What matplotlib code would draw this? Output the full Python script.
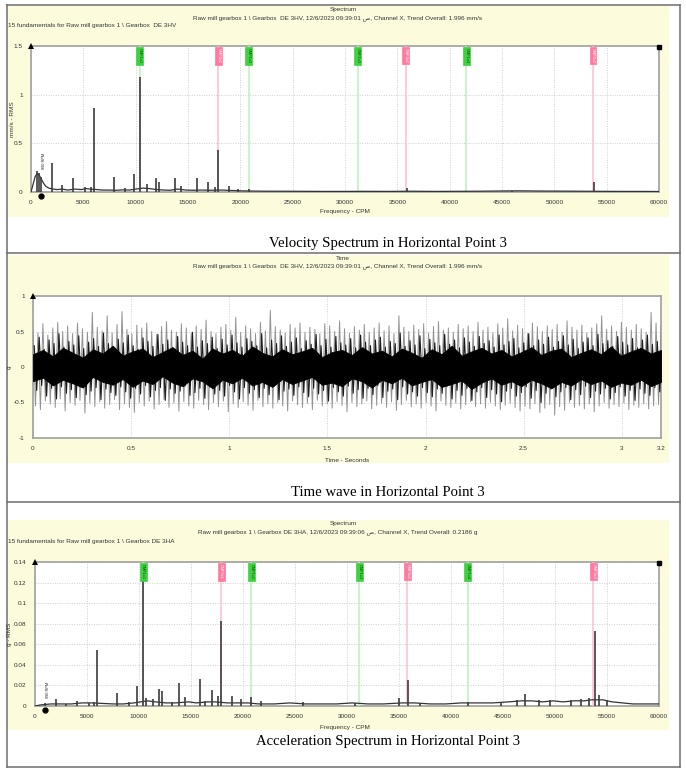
import numpy as np
import matplotlib
matplotlib.use("Agg")
import matplotlib.pyplot as plt
from matplotlib.patches import Rectangle
from matplotlib.transforms import blended_transform_factory as btf

plt.rcParams['font.family'] = ['Liberation Sans', 'DejaVu Sans']

# ---------------- data ----------------
freq_ticks = [0, 5000, 10000, 15000, 20000, 25000, 30000, 35000, 40000, 45000, 50000, 55000, 60000]
vel_yticks = [0, 0.5, 1, 1.5]
acc_yticks = [0, 0.02, 0.04, 0.06, 0.08, 0.1, 0.12, 0.14]
time_xticks = [0, 0.5, 1, 1.5, 2, 2.5, 3, 3.2]
time_yticks = [-1, -0.5, 0, 0.5, 1]

marker_freqs = [10400, 17900, 20800, 31200, 35800, 41600, 53700]
marker_labels = ["GMF1x1", "GMF2x1", "GMF1x2", "GMF1x3", "GMF2x2", "GMF1x4", "GMF2x3"]
marker_kinds = ["g", "p", "g", "g", "p", "g", "p"]
rpm_freq = 990
rpm_label = "990 RPM"

vel_peak_f = [600, 800, 1000, 2000, 3000, 4000, 5200, 5700, 6000, 7900, 9000, 9800, 10400, 11100,
              11900, 12200, 13800, 14300, 15900, 16900, 17600, 17900, 18900, 19800, 20800, 25200,
              35000, 35900, 41600, 46000, 53800]
vel_peak_v = [0.22, 0.20, 0.15, 0.30, 0.07, 0.14, 0.05, 0.05, 0.86, 0.15, 0.04, 0.18, 1.18, 0.08,
              0.14, 0.10, 0.14, 0.06, 0.14, 0.10, 0.05, 0.43, 0.06, 0.03, 0.03, 0.012,
              0.01, 0.04, 0.01, 0.012, 0.10]
vel_floor_f = [0, 200, 400, 600, 800, 1000, 1200, 1400, 1700, 2100, 2500, 3000, 3500, 4200, 4800, 5300,
               5600, 6300, 6800, 7400, 8200, 8800, 9400, 10000, 10700, 11300, 12000, 12700, 13300, 14000,
               14800, 15500, 16300, 17200, 18300, 19200, 20000, 21000, 22500, 24000, 26000, 28000, 30000,
               32000, 34000, 36500, 38500, 40500, 42500, 44500, 46500, 48500, 50500, 52500, 54500, 56500,
               58500, 60000]
vel_floor_v = [0.0, 0.08, 0.16, 0.19, 0.17, 0.13, 0.09, 0.06, 0.04, 0.03, 0.025, 0.03, 0.02, 0.03, 0.025,
               0.035, 0.03, 0.025, 0.02, 0.02, 0.018, 0.022, 0.02, 0.03, 0.04, 0.035, 0.025, 0.02, 0.018,
               0.03, 0.02, 0.018, 0.02, 0.018, 0.02, 0.015, 0.012, 0.01, 0.008, 0.008, 0.007, 0.006, 0.006,
               0.007, 0.006, 0.008, 0.006, 0.007, 0.008, 0.01, 0.012, 0.01, 0.009, 0.008, 0.007, 0.006,
               0.006, 0.005]

acc_peak_f = [1000, 2000, 3000, 4000, 5200, 5700, 6000, 7900, 9000, 9800, 10400, 10700, 11300, 11900,
              12200, 13200, 13800, 14400, 15900, 16300, 17000, 17600, 17900, 18900, 19800, 20800, 21700,
              25800, 30800, 35000, 35900, 37000, 41600, 44800, 46300, 47100, 48500, 49500, 51500, 52500,
              53300, 53800, 54200, 55000]
acc_peak_v = [0.003, 0.007, 0.002, 0.005, 0.003, 0.004, 0.054, 0.013, 0.004, 0.019, 0.123, 0.008, 0.007,
              0.017, 0.015, 0.004, 0.022, 0.009, 0.026, 0.005, 0.016, 0.01, 0.083, 0.01, 0.007, 0.009,
              0.005, 0.004, 0.003, 0.008, 0.025, 0.003, 0.004, 0.004, 0.006, 0.012, 0.006, 0.006, 0.006,
              0.007, 0.008, 0.073, 0.011, 0.006]
acc_floor_f = [0, 500, 1000, 1500, 2500, 3500, 4500, 5500, 6500, 7500, 8500, 9500, 10800, 11600, 12600,
               13500, 14800, 15500, 16600, 17300, 18500, 19500, 20500, 21500, 23000, 24500, 26000, 27500,
               29000, 30500, 32000, 33500, 35300, 36500, 38000, 39500, 41000, 42500, 44000, 45500, 46800,
               47800, 48800, 49800, 50800, 51800, 52800, 53500, 54600, 55500, 56500, 57500, 58500, 60000]
acc_floor_v = [0.0, 0.001, 0.0015, 0.002, 0.002, 0.002, 0.003, 0.003, 0.0025, 0.002, 0.002, 0.003, 0.005,
               0.004, 0.003, 0.003, 0.004, 0.003, 0.004, 0.004, 0.003, 0.003, 0.003, 0.002, 0.002, 0.003,
               0.002, 0.002, 0.002, 0.003, 0.002, 0.002, 0.003, 0.003, 0.002, 0.002, 0.003, 0.003, 0.003,
               0.004, 0.005, 0.005, 0.004, 0.005, 0.004, 0.005, 0.005, 0.006, 0.006, 0.004, 0.003, 0.002,
               0.002, 0.002]

wave_hi = [0.52, 0.48, 0.61, 0.45, 0.55, 0.63, 0.50, 0.58, 0.47, 0.62, 0.54, 0.49, 0.77, 0.56, 0.51, 0.72,
           0.48, 0.60, 0.78, 0.53, 0.47, 0.59, 0.55, 0.62, 0.50, 0.46, 0.57, 0.64, 0.52, 0.49, 0.61, 0.55,
           0.48, 0.58, 0.53, 0.66, 0.50, 0.47, 0.56, 0.60, 0.52, 0.70, 0.49, 0.58, 0.54, 0.47, 0.63, 0.51,
           0.80, 0.57, 0.52, 0.48, 0.60, 0.55, 0.62, 0.49, 0.56, 0.53, 0.47, 0.61, 0.58, 0.50, 0.65, 0.54,
           0.48, 0.57, 0.52, 0.60, 0.49, 0.55, 0.62, 0.51, 0.58, 0.47, 0.72, 0.56, 0.50, 0.59, 0.53, 0.61,
           0.48, 0.57, 0.64, 0.52, 0.55, 0.49, 0.60, 0.54, 0.58, 0.50, 0.63, 0.52, 0.56, 0.48, 0.61, 0.55,
           0.68, 0.51, 0.59, 0.54, 0.47, 0.62, 0.57, 0.50, 0.58, 0.53, 0.60, 0.49, 0.65, 0.56, 0.52, 0.59,
           0.48, 0.55, 0.61, 0.72, 0.53, 0.58, 0.50, 0.63, 0.56, 0.52, 0.60, 0.54, 0.49, 0.77, 0.62, 0.58]
wave_lo = [-0.55, -0.60, -0.48, -0.52, -0.57, -0.45, -0.62, -0.50, -0.54, -0.47, -0.65, -0.51, -0.56,
           -0.49, -0.58, -0.53, -0.46, -0.60, -0.52, -0.57, -0.64, -0.50, -0.55, -0.48, -0.59, -0.53,
           -0.46, -0.57, -0.51, -0.62, -0.49, -0.55, -0.58, -0.47, -0.53, -0.60, -0.50, -0.56, -0.48,
           -0.63, -0.52, -0.57, -0.49, -0.54, -0.61, -0.47, -0.56, -0.52, -0.58, -0.50, -0.55, -0.62,
           -0.48, -0.53, -0.57, -0.51, -0.60, -0.47, -0.55, -0.52, -0.58, -0.49, -0.54, -0.63, -0.50,
           -0.56, -0.52, -0.48, -0.59, -0.54, -0.51, -0.57, -0.49, -0.61, -0.53, -0.47, -0.56, -0.52,
           -0.58, -0.50, -0.55, -0.62, -0.48, -0.54, -0.57, -0.51, -0.59, -0.53, -0.49, -0.56, -0.52,
           -0.58, -0.50, -0.55, -0.60, -0.54, -0.51, -0.57, -0.62, -0.55, -0.59, -0.52, -0.64, -0.58,
           -0.53, -0.68, -0.56, -0.61, -0.50, -0.57, -0.54, -0.59, -0.52, -0.63, -0.55, -0.50, -0.58,
           -0.53, -0.56, -0.51, -0.60, -0.54, -0.57, -0.52, -0.59, -0.55, -0.53, -0.58]
core_hi = [0.30, 0.42, 0.25, 0.38, 0.33, 0.47, 0.28, 0.36, 0.31, 0.44, 0.26, 0.35, 0.40, 0.29, 0.48, 0.33,
           0.27, 0.39, 0.34, 0.45, 0.30, 0.25, 0.41, 0.36, 0.29, 0.46, 0.32, 0.38, 0.27, 0.43, 0.35, 0.30,
           0.49, 0.28, 0.37, 0.33, 0.42, 0.26, 0.39, 0.31, 0.45, 0.34, 0.28, 0.40, 0.36, 0.30, 0.47, 0.27,
           0.38, 0.33, 0.44, 0.29, 0.35, 0.41, 0.26, 0.37, 0.32, 0.46, 0.30, 0.39, 0.28, 0.43, 0.34, 0.31,
           0.40, 0.27, 0.45, 0.35, 0.30, 0.38, 0.42, 0.28, 0.36, 0.33, 0.48, 0.29, 0.37, 0.31, 0.44, 0.26,
           0.39, 0.34, 0.30, 0.46, 0.32, 0.38, 0.27, 0.41, 0.35, 0.29, 0.43, 0.33, 0.37, 0.28, 0.45, 0.31,
           0.36, 0.40, 0.27, 0.34, 0.47, 0.30, 0.38, 0.32, 0.42, 0.28, 0.36, 0.44, 0.31, 0.39, 0.26, 0.35,
           0.41, 0.30, 0.46, 0.33, 0.37, 0.29, 0.43, 0.35, 0.31, 0.40, 0.27, 0.38, 0.45, 0.32, 0.36, 0.42]
core_lo = [-0.33, -0.26, -0.41, -0.30, -0.45, -0.28, -0.37, -0.32, -0.43, -0.27, -0.39, -0.34, -0.29,
           -0.46, -0.31, -0.36, -0.40, -0.28, -0.35, -0.44, -0.30, -0.38, -0.26, -0.42, -0.33, -0.29,
           -0.47, -0.31, -0.37, -0.34, -0.27, -0.40, -0.36, -0.30, -0.44, -0.28, -0.38, -0.33, -0.41,
           -0.26, -0.35, -0.45, -0.29, -0.37, -0.32, -0.43, -0.30, -0.39, -0.27, -0.46, -0.34, -0.31,
           -0.40, -0.28, -0.36, -0.42, -0.30, -0.38, -0.33, -0.48, -0.29, -0.35, -0.41, -0.27, -0.37,
           -0.32, -0.44, -0.30, -0.39, -0.26, -0.43, -0.34, -0.31, -0.46, -0.28, -0.38, -0.35, -0.41,
           -0.29, -0.36, -0.42, -0.31, -0.37, -0.27, -0.45, -0.33, -0.40, -0.30, -0.47, -0.35, -0.29,
           -0.43, -0.32, -0.38, -0.49, -0.34, -0.30, -0.41, -0.36, -0.28, -0.44, -0.33, -0.50, -0.37,
           -0.31, -0.42, -0.35, -0.29, -0.46, -0.32, -0.39, -0.27, -0.43, -0.34, -0.38, -0.30, -0.45,
           -0.36, -0.28, -0.41, -0.33, -0.47, -0.31, -0.37, -0.40, -0.29, -0.35, -0.44]
# dense black band of the waveform (upper / lower edges)
band_hi = [0.18, 0.24, 0.15, 0.27, 0.20, 0.13, 0.25, 0.19, 0.30, 0.16, 0.22, 0.26, 0.14, 0.21, 0.28, 0.17,
           0.23, 0.12, 0.26, 0.19, 0.24, 0.16, 0.29, 0.20, 0.15, 0.25, 0.18, 0.22, 0.27, 0.14, 0.21, 0.24,
           0.17, 0.28, 0.19, 0.23, 0.15, 0.26, 0.20, 0.13, 0.25, 0.18, 0.30, 0.16, 0.22, 0.27, 0.19, 0.24,
           0.15, 0.21, 0.28, 0.17, 0.23, 0.26, 0.14, 0.20, 0.25, 0.18, 0.29, 0.16, 0.22, 0.27, 0.19, 0.24]
band_lo = [-0.20, -0.15, -0.26, -0.18, -0.23, -0.29, -0.14, -0.21, -0.25, -0.17, -0.28, -0.19, -0.24,
           -0.13, -0.22, -0.27, -0.16, -0.20, -0.30, -0.18, -0.23, -0.15, -0.26, -0.21, -0.28, -0.17,
           -0.24, -0.19, -0.14, -0.25, -0.22, -0.27, -0.16, -0.20, -0.29, -0.18, -0.23, -0.15, -0.26,
           -0.21, -0.17, -0.28, -0.24, -0.19, -0.31, -0.22, -0.16, -0.25, -0.20, -0.27, -0.18, -0.23,
           -0.30, -0.21, -0.26, -0.17, -0.24, -0.19, -0.28, -0.22, -0.25, -0.18, -0.27, -0.21]

# ---------------- layout ----------------
W, H = 686, 777
fig = plt.figure(figsize=(W / 100, H / 100), dpi=100)
fig.patch.set_facecolor('white')

bg = fig.add_axes([0, 0, 1, 1])
bg.set_xlim(0, W)
bg.set_ylim(H, 0)
bg.axis('off')
bg.set_zorder(0)

YEL = '#fcfcdc'
BORDER = '#6e6e6e'
SMALL = 4.6
TXT = '#333333'


def rect(x0, y0, x1, y1):
    return [x0 / W, 1 - y1 / H, (x1 - x0) / W, (y1 - y0) / H]


# yellow panels
for (x0, y0, x1, y1) in [(8, 6, 669, 217), (8, 255, 669, 463), (8, 520, 669, 730)]:
    bg.add_patch(Rectangle((x0, y0), x1 - x0, y1 - y0, fc=YEL, ec='none'))

# table borders
for y in [5, 253, 502, 767]:
    bg.plot([7, 680], [y, y], color=BORDER, lw=1.1)
for x in [7, 680]:
    bg.plot([x, x], [5, 767], color=BORDER, lw=1.1)

# captions
cap_kw = dict(ha='center', va='center', fontsize=10.6, family=['Liberation Serif'], color='black')
bg.text(388, 244, "Velocity Spectrum in Horizontal Point 3", **cap_kw)
bg.text(388, 492, "Time wave in Horizontal Point 3", **cap_kw)
bg.text(388, 742, "Acceleration Spectrum in Horizontal Point 3", **cap_kw)

hv_line = "Raw mill gearbox 1 \\ Gearbox  DE 3HV, 12/6/2023 09:39:01 ص, Channel X, Trend Overall: 1.996 mm/s"
ha_line = "Raw mill gearbox 1 \\ Gearbox DE 3HA, 12/6/2023 09:39:06 ص, Channel X, Trend Overall: 0.2186 g"
tk = dict(fontsize=SMALL, color=TXT, va='center')
bg.text(343, 9, "Spectrum", ha='center', **tk)
bg.text(338, 18, hv_line, ha='center', **tk)
bg.text(8, 26, "15 fundamentals for Raw mill gearbox 1 \\ Gearbox  DE 3HV", ha='left', **tk)
bg.text(343, 258, "Time", ha='center', **tk)
bg.text(338, 266, hv_line, ha='center', **tk)
bg.text(343, 523, "Spectrum", ha='center', **tk)
bg.text(338, 532, ha_line, ha='center', **tk)
bg.text(8, 541, "15 fundamentals for Raw mill gearbox 1 \\ Gearbox DE 3HA", ha='left', **tk)

bg.text(345, 212, "Frequency - CPM", ha='center', **tk)
bg.text(347, 460, "Time - Seconds", ha='center', **tk)
bg.text(345, 727, "Frequency - CPM", ha='center', **tk)
bg.text(12, 119, "mm/s - RMS", ha='center', rotation=90, **tk)
bg.text(9, 367, "g", ha='center', rotation=90, **tk)
bg.text(9, 634, "g - RMS", ha='center', rotation=90, **tk)


def style(ax, xt, xl, yt, yl):
    ax.set_facecolor('white')
    ax.set_zorder(2)
    for s in ax.spines.values():
        s.set_color('#a0a0a0')
        s.set_linewidth(1.2)
    ax.set_xticks(xt)
    ax.set_xticklabels(xl)
    ax.set_yticks(yt)
    ax.set_yticklabels(yl)
    ax.tick_params(length=0, labelsize=SMALL, labelcolor=TXT, pad=6)
    ax.grid(True, color='#cfcfcf', ls=(0, (1, 1.5)), lw=0.7)
    ax.set_axisbelow(True)


def fmt(v):
    return '%g' % v


def spectrum(ax, pf, pv, ff, fv, ymax, rpm_frac):
    n = min(len(ff), len(fv))
    ax.plot(ff[:n], fv[:n], color='#333333', lw=0.9, zorder=4)
    m = min(len(pf), len(pv))
    ax.vlines(pf[:m], 0, pv[:m], color='#3c3c3c', lw=1.2, zorder=4)
    tr = btf(ax.transData, ax.transAxes)
    for f, lab, kind in zip(marker_freqs, marker_labels, marker_kinds):
        lc = '#b9f3b9' if kind == 'g' else '#ffbfd0'
        bc = '#3fd13f' if kind == 'g' else '#ff7aa0'
        tc = '#0a4a0a' if kind == 'g' else '#ffffff'
        ax.axvline(f, color=lc, lw=1.1, zorder=3)
        ax.text(f, 0.985, lab, rotation=-90, transform=tr, ha='center', va='top', fontsize=2.8,
                color=tc, zorder=6,
                bbox=dict(boxstyle='square,pad=0.35', fc=bc, ec=bc, lw=0.5))
    ax.text(rpm_freq + 250, rpm_frac, rpm_label, rotation=90, transform=tr, ha='center', va='bottom',
            fontsize=2.8, color='#222222', zorder=6)
    ax.plot([rpm_freq], [-0.025], 'o', color='black', ms=3.5, transform=tr, clip_on=False, zorder=7)
    ax.plot([0], [1.0], '^', color='black', ms=4, transform=ax.transAxes, clip_on=False, zorder=7,
            markeredgewidth=0)
    ax.plot([1.0], [0.99], 's', color='black', ms=3, transform=ax.transAxes, clip_on=False, zorder=7)
    ax.set_xlim(0, 60000)
    ax.set_ylim(0, ymax)


def zigzag(t, hi, lo, shift):
    k = min(len(t), len(hi), len(lo))
    step = (t[1] - t[0]) if len(t) > 1 else 0
    xs = np.empty(2 * k)
    ys = np.empty(2 * k)
    xs[0::2] = np.asarray(t[:k]) + shift * step
    xs[1::2] = np.asarray(t[:k]) + (shift + 0.5) * step
    ys[0::2] = np.asarray(hi[:k])
    ys[1::2] = np.asarray(lo[:k])
    return xs, ys


# velocity spectrum
ax1 = fig.add_axes(rect(31, 46, 659, 192))
style(ax1, freq_ticks, [str(t) for t in freq_ticks], vel_yticks, [fmt(v) for v in vel_yticks])
spectrum(ax1, vel_peak_f, vel_peak_v, vel_floor_f, vel_floor_v, 1.5, 0.16)

# time wave
ax2 = fig.add_axes(rect(33, 296, 661, 438))
style(ax2, time_xticks, [fmt(v) for v in time_xticks], time_yticks, [fmt(v) for v in time_yticks])
t_out = np.linspace(0, 3.2, min(len(wave_hi), len(wave_lo)))
t_core = np.linspace(0, 3.2, min(len(core_hi), len(core_lo)))
nb = min(len(band_hi), len(band_lo))
t_band = np.linspace(0, 3.2, nb)
xo, yo = zigzag(t_out, wave_hi, wave_lo, 0.0)
ax2.plot(xo, yo, color='#939393', lw=0.7, zorder=3)
xc, yc = zigzag(t_core, core_hi, core_lo, 0.25)
ax2.plot(xc, yc, color='#1a1a1a', lw=0.8, zorder=4)
ax2.fill_between(t_band, band_lo[:nb], band_hi[:nb], color='black', lw=0.6, ec='black', zorder=5)
ax2.plot([0], [1.0], '^', color='black', ms=4, transform=ax2.transAxes, clip_on=False, zorder=7,
         markeredgewidth=0)
ax2.set_xlim(0, 3.2)
ax2.set_ylim(-1, 1)

# acceleration spectrum
ax3 = fig.add_axes(rect(35, 562, 659, 706))
style(ax3, freq_ticks, [str(t) for t in freq_ticks], acc_yticks, [fmt(v) for v in acc_yticks])
spectrum(ax3, acc_peak_f, acc_peak_v, acc_floor_f, acc_floor_v, 0.14, 0.055)

fig.savefig("out.png", dpi=100, facecolor='white')
